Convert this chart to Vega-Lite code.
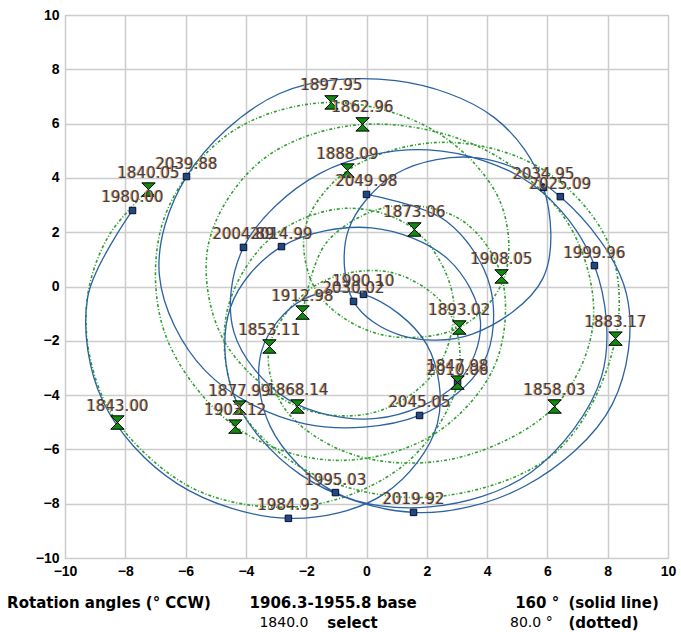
{
  "$schema": "https://vega.github.io/schema/vega-lite/v6.json",
  "width": 603,
  "height": 543,
  "autosize": {"type": "none"},
  "padding": {"left": 65, "top": 15, "right": 13, "bottom": 74},
  "background": "white",
  "config": {
    "view": {"stroke": "#a8a8a8", "strokeWidth": 1},
    "axis": {
      "grid": true, "gridColor": "#cccccc", "gridWidth": 1.5,
      "domain": false, "ticks": false, "tickCount": 10,
      "labelFont": "Liberation Sans", "labelFontWeight": "bold", "labelFontSize": 14,
      "labelColor": "#000000", "labelFlush": false, "labelOverlap": false
    },
    "axisX": {"labelPadding": 6},
    "axisY": {"labelPadding": 6}
  },
  "datasets": {
    "blue": [
      {"i": 1, "x": -7.76, "y": 2.80, "label": "1980.00"},
      {"i": 2, "x": -9.25, "y": -0.41},
      {"i": 3, "x": -8.75, "y": -4.21},
      {"i": 4, "x": -6.28, "y": -7.26},
      {"i": 5, "x": -2.59, "y": -8.54, "label": "1984.93"},
      {"i": 6, "x": 0.60, "y": -7.63},
      {"i": 7, "x": 2.35, "y": -5.06},
      {"i": 8, "x": 2.00, "y": -2.14},
      {"i": 9, "x": -0.10, "y": -0.29, "label": "1990.10"},
      {"i": 10, "x": -2.13, "y": -0.49},
      {"i": 11, "x": -3.48, "y": -2.38},
      {"i": 12, "x": -3.19, "y": -5.16},
      {"i": 13, "x": -1.03, "y": -7.59, "label": "1995.03"},
      {"i": 14, "x": 2.09, "y": -8.12},
      {"i": 15, "x": 5.45, "y": -6.85},
      {"i": 16, "x": 7.80, "y": -3.30},
      {"i": 17, "x": 7.56, "y": 0.77, "label": "1999.96"},
      {"i": 18, "x": 5.51, "y": 3.75},
      {"i": 19, "x": 2.05, "y": 5.03},
      {"i": 20, "x": -1.57, "y": 4.15},
      {"i": 21, "x": -4.08, "y": 1.44, "label": "2004.89"},
      {"i": 22, "x": -4.40, "y": -1.67},
      {"i": 23, "x": -2.62, "y": -4.15},
      {"i": 24, "x": 0.33, "y": -4.86},
      {"i": 25, "x": 3.02, "y": -3.54, "label": "2010.06"},
      {"i": 26, "x": 3.78, "y": -1.30},
      {"i": 27, "x": 2.72, "y": 0.99},
      {"i": 28, "x": 0.17, "y": 2.16},
      {"i": 29, "x": -2.82, "y": 1.47, "label": "2014.99"},
      {"i": 30, "x": -4.52, "y": -0.79},
      {"i": 31, "x": -4.40, "y": -4.01},
      {"i": 32, "x": -2.19, "y": -6.93},
      {"i": 33, "x": 1.56, "y": -8.32, "label": "2019.92"},
      {"i": 34, "x": 5.26, "y": -7.35},
      {"i": 35, "x": 8.15, "y": -4.34},
      {"i": 36, "x": 8.62, "y": -0.26},
      {"i": 37, "x": 6.43, "y": 3.31, "label": "2025.09"},
      {"i": 38, "x": 3.75, "y": 4.73},
      {"i": 39, "x": 1.01, "y": 4.17},
      {"i": 40, "x": -0.61, "y": 2.05},
      {"i": 41, "x": -0.43, "y": -0.55, "label": "2030.02"},
      {"i": 42, "x": 1.14, "y": -1.80},
      {"i": 43, "x": 3.51, "y": -1.75},
      {"i": 44, "x": 5.85, "y": 0.30},
      {"i": 45, "x": 5.87, "y": 3.65, "label": "2034.95"},
      {"i": 46, "x": 4.24, "y": 6.22},
      {"i": 47, "x": 0.97, "y": 7.58},
      {"i": 48, "x": -2.90, "y": 7.10},
      {"i": 49, "x": -5.97, "y": 4.05, "label": "2039.88"},
      {"i": 50, "x": -6.87, "y": 0.42},
      {"i": 51, "x": -5.36, "y": -3.09},
      {"i": 52, "x": -2.04, "y": -5.06},
      {"i": 53, "x": 1.76, "y": -4.75, "label": "2045.05"},
      {"i": 54, "x": 3.88, "y": -2.81},
      {"i": 55, "x": 4.10, "y": 0.00},
      {"i": 56, "x": 2.65, "y": 2.40},
      {"i": 57, "x": 0.00, "y": 3.39, "label": "2049.98"}
    ],
    "green": [
      {"i": 1, "x": -7.23, "y": 3.57, "label": "1840.05"},
      {"i": 2, "x": -8.56, "y": 1.85},
      {"i": 3, "x": -9.25, "y": -0.34},
      {"i": 4, "x": -9.15, "y": -2.72},
      {"i": 5, "x": -8.26, "y": -5.01, "label": "1843.00"},
      {"i": 6, "x": -5.58, "y": -7.53},
      {"i": 7, "x": -1.93, "y": -8.07},
      {"i": 8, "x": 1.31, "y": -6.51},
      {"i": 9, "x": 3.02, "y": -3.54, "label": "1847.98"},
      {"i": 10, "x": 2.72, "y": -0.91},
      {"i": 11, "x": 0.76, "y": 0.53},
      {"i": 12, "x": -1.69, "y": 0.04},
      {"i": 13, "x": -3.22, "y": -2.21, "label": "1853.11"},
      {"i": 14, "x": -2.71, "y": -4.50},
      {"i": 15, "x": -0.40, "y": -6.21},
      {"i": 16, "x": 2.98, "y": -6.32},
      {"i": 17, "x": 6.24, "y": -4.42, "label": "1858.03"},
      {"i": 18, "x": 7.52, "y": -1.30},
      {"i": 19, "x": 6.70, "y": 2.30},
      {"i": 20, "x": 3.87, "y": 5.07},
      {"i": 21, "x": -0.13, "y": 5.97, "label": "1862.96"},
      {"i": 22, "x": -3.46, "y": 4.66},
      {"i": 23, "x": -5.24, "y": 1.57},
      {"i": 24, "x": -4.75, "y": -1.95},
      {"i": 25, "x": -2.29, "y": -4.42, "label": "1868.14"},
      {"i": 26, "x": 0.28, "y": -4.63},
      {"i": 27, "x": 2.33, "y": -3.04},
      {"i": 28, "x": 2.87, "y": -0.39},
      {"i": 29, "x": 1.59, "y": 2.10, "label": "1873.06"},
      {"i": 30, "x": -0.68, "y": 2.88},
      {"i": 31, "x": -3.18, "y": 1.78},
      {"i": 32, "x": -4.64, "y": -0.99},
      {"i": 33, "x": -4.21, "y": -4.46, "label": "1877.99"},
      {"i": 34, "x": -1.71, "y": -6.94},
      {"i": 35, "x": 2.25, "y": -7.75},
      {"i": 36, "x": 6.30, "y": -6.08},
      {"i": 37, "x": 8.26, "y": -1.92, "label": "1883.17"},
      {"i": 38, "x": 8.01, "y": 1.62},
      {"i": 39, "x": 5.79, "y": 4.35},
      {"i": 40, "x": 2.49, "y": 5.31},
      {"i": 41, "x": -0.63, "y": 4.27, "label": "1888.09"},
      {"i": 42, "x": -2.04, "y": 2.13},
      {"i": 43, "x": -1.59, "y": -0.29},
      {"i": 44, "x": 0.44, "y": -1.76},
      {"i": 45, "x": 3.08, "y": -1.51, "label": "1893.02"},
      {"i": 46, "x": 4.57, "y": 0.33},
      {"i": 47, "x": 4.43, "y": 3.13},
      {"i": 48, "x": 2.35, "y": 5.67},
      {"i": 49, "x": -1.16, "y": 6.78, "label": "1897.95"},
      {"i": 50, "x": -4.53, "y": 5.65},
      {"i": 51, "x": -6.73, "y": 2.46},
      {"i": 52, "x": -6.71, "y": -1.65},
      {"i": 53, "x": -4.35, "y": -5.16, "label": "1903.12"},
      {"i": 54, "x": -1.15, "y": -6.40},
      {"i": 55, "x": 2.14, "y": -5.51},
      {"i": 56, "x": 4.26, "y": -2.89},
      {"i": 57, "x": 4.48, "y": 0.37, "label": "1908.05"},
      {"i": 58, "x": 3.14, "y": 2.45},
      {"i": 59, "x": 0.80, "y": 2.95},
      {"i": 60, "x": -1.32, "y": 1.63},
      {"i": 61, "x": -2.12, "y": -0.96, "label": "1912.98"}
    ],
    "notesBold": [
      {"x": -11.92, "y": -11.64, "text": "Rotation angles (° CCW)"},
      {"x": -3.88, "y": -11.64, "text": "1906.3-1955.8 base"},
      {"x": 4.93, "y": -11.64, "text": "160 °"},
      {"x": 6.70, "y": -11.64, "text": "(solid line)"},
      {"x": -1.30, "y": -12.40, "text": "select"},
      {"x": 6.70, "y": -12.40, "text": "(dotted)"}
    ],
    "notesRegular": [
      {"x": -3.55, "y": -12.40, "text": "1840.0"},
      {"x": 4.76, "y": -12.40, "text": "80.0 °"}
    ]
  },
  "layer": [
    {
      "data": {"name": "green"},
      "mark": {"type": "line", "color": "#2e9e2e", "strokeWidth": 1.6, "strokeDash": [3, 2, 1, 2], "interpolate": "catmull-rom"},
      "encoding": {
        "x": {"field": "x", "type": "quantitative", "title": null, "scale": {"domain": [-10, 10], "nice": false, "zero": false}},
        "y": {"field": "y", "type": "quantitative", "title": null, "scale": {"domain": [-10, 10], "nice": false, "zero": false}},
        "order": {"field": "i", "type": "quantitative"}
      }
    },
    {
      "data": {"name": "blue"},
      "mark": {"type": "line", "color": "#2b62a0", "strokeWidth": 1.3, "interpolate": "catmull-rom"},
      "encoding": {
        "x": {"field": "x", "type": "quantitative", "title": null, "scale": {"domain": [-10, 10], "nice": false, "zero": false}},
        "y": {"field": "y", "type": "quantitative", "title": null, "scale": {"domain": [-10, 10], "nice": false, "zero": false}},
        "order": {"field": "i", "type": "quantitative"}
      }
    },
    {
      "data": {"name": "blue"},
      "transform": [{"filter": "isValid(datum.label)"}],
      "mark": {"type": "point", "shape": "square", "size": 42, "filled": true, "fill": "#1d4a80", "stroke": "#0a0a28", "strokeWidth": 1, "opacity": 1},
      "encoding": {
        "x": {"field": "x", "type": "quantitative", "title": null, "scale": {"domain": [-10, 10], "nice": false, "zero": false}},
        "y": {"field": "y", "type": "quantitative", "title": null, "scale": {"domain": [-10, 10], "nice": false, "zero": false}}
      }
    },
    {
      "data": {"name": "green"},
      "transform": [{"filter": "isValid(datum.label)"}],
      "mark": {"type": "point", "shape": "M-1,-1L1,-1L-1,1L1,1Z", "size": 180, "filled": true, "fill": "#0f8a0f", "stroke": "#000000", "strokeWidth": 1, "opacity": 1},
      "encoding": {
        "x": {"field": "x", "type": "quantitative", "title": null, "scale": {"domain": [-10, 10], "nice": false, "zero": false}},
        "y": {"field": "y", "type": "quantitative", "title": null, "scale": {"domain": [-10, 10], "nice": false, "zero": false}}
      }
    },
    {
      "data": {"name": "blue"},
      "transform": [{"filter": "isValid(datum.label)"}],
      "mark": {"type": "text", "font": "DejaVu Sans", "fontSize": 15, "color": "#e8a050", "dx": -1, "dy": -13, "baseline": "middle", "align": "center"},
      "encoding": {
        "x": {"field": "x", "type": "quantitative", "title": null, "scale": {"domain": [-10, 10], "nice": false, "zero": false}},
        "y": {"field": "y", "type": "quantitative", "title": null, "scale": {"domain": [-10, 10], "nice": false, "zero": false}},
        "text": {"field": "label"}
      }
    },
    {
      "data": {"name": "blue"},
      "transform": [{"filter": "isValid(datum.label)"}],
      "mark": {"type": "text", "font": "DejaVu Sans", "fontSize": 15, "color": "#3c3c4c", "dy": -13, "baseline": "middle", "align": "center"},
      "encoding": {
        "x": {"field": "x", "type": "quantitative", "title": null, "scale": {"domain": [-10, 10], "nice": false, "zero": false}},
        "y": {"field": "y", "type": "quantitative", "title": null, "scale": {"domain": [-10, 10], "nice": false, "zero": false}},
        "text": {"field": "label"}
      }
    },
    {
      "data": {"name": "green"},
      "transform": [{"filter": "isValid(datum.label)"}],
      "mark": {"type": "text", "font": "DejaVu Sans", "fontSize": 15, "color": "#e8a050", "dx": -1, "dy": -17, "baseline": "middle", "align": "center"},
      "encoding": {
        "x": {"field": "x", "type": "quantitative", "title": null, "scale": {"domain": [-10, 10], "nice": false, "zero": false}},
        "y": {"field": "y", "type": "quantitative", "title": null, "scale": {"domain": [-10, 10], "nice": false, "zero": false}},
        "text": {"field": "label"}
      }
    },
    {
      "data": {"name": "green"},
      "transform": [{"filter": "isValid(datum.label)"}],
      "mark": {"type": "text", "font": "DejaVu Sans", "fontSize": 15, "color": "#3c3c4c", "dy": -17, "baseline": "middle", "align": "center"},
      "encoding": {
        "x": {"field": "x", "type": "quantitative", "title": null, "scale": {"domain": [-10, 10], "nice": false, "zero": false}},
        "y": {"field": "y", "type": "quantitative", "title": null, "scale": {"domain": [-10, 10], "nice": false, "zero": false}},
        "text": {"field": "label"}
      }
    },
    {
      "data": {"name": "notesBold"},
      "mark": {"type": "text", "font": "DejaVu Sans", "fontWeight": "bold", "fontSize": 15, "color": "#000000", "baseline": "middle", "align": "left"},
      "encoding": {
        "x": {"field": "x", "type": "quantitative", "title": null, "scale": {"domain": [-10, 10], "nice": false, "zero": false}},
        "y": {"field": "y", "type": "quantitative", "title": null, "scale": {"domain": [-10, 10], "nice": false, "zero": false}},
        "text": {"field": "text"}
      }
    },
    {
      "data": {"name": "notesRegular"},
      "mark": {"type": "text", "font": "DejaVu Sans", "fontSize": 14, "color": "#000000", "baseline": "middle", "align": "left"},
      "encoding": {
        "x": {"field": "x", "type": "quantitative", "title": null, "scale": {"domain": [-10, 10], "nice": false, "zero": false}},
        "y": {"field": "y", "type": "quantitative", "title": null, "scale": {"domain": [-10, 10], "nice": false, "zero": false}},
        "text": {"field": "text"}
      }
    }
  ]
}
